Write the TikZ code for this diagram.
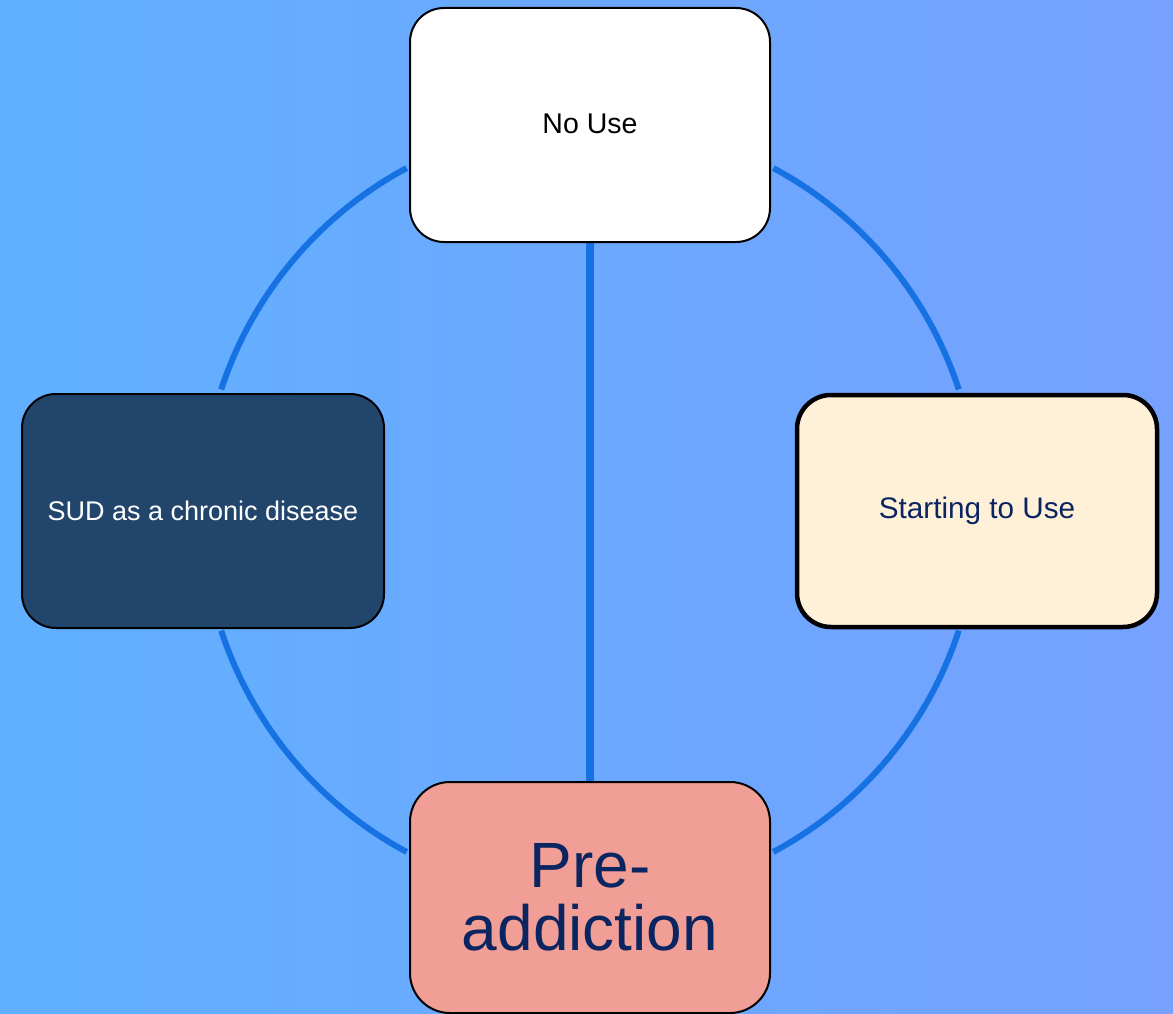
\documentclass[tikz,border=0pt]{standalone}
\usepackage{fontspec}
\setmainfont{Liberation Sans}
\usetikzlibrary{backgrounds}
\definecolor{bgL}{RGB}{96,176,255}
\definecolor{bgR}{RGB}{118,161,255}
\definecolor{link}{RGB}{22,114,226}
\definecolor{navy}{RGB}{11,37,96}
\definecolor{cream}{RGB}{255,240,216}
\definecolor{sud}{RGB}{34,69,108}
\definecolor{salmon}{RGB}{241,158,150}
\tikzset{
  stagebox/.style={draw=black, rounded corners=34pt, minimum width=360pt, minimum height=234pt, inner sep=0pt, align=center, line width=2pt},
  linkline/.style={draw=link, line width=6pt},
}
\begin{document}
\begin{tikzpicture}[x=1pt,y=1pt]
\useasboundingbox (0,0) rectangle (1173,-1014);
\coordinate (c) at (590,-510);
\node[stagebox, fill=white, font=\fontsize{28.5}{33}\selectfont] (nouse) at (590,-125) {\raisebox{2pt}{No Use}};
\node[stagebox, fill=cream, line width=4.5pt, minimum width=360pt, minimum height=232pt, text=navy, font=\fontsize{29.7}{34}\selectfont] (start) at (977,-511) {\raisebox{-3pt}{Starting to Use}};
\node[stagebox, fill=sud, text=white, minimum width=362pt, font=\fontsize{27}{32}\selectfont] (sud) at (203,-511) {SUD as a chronic disease};
\node[stagebox, fill=salmon, text=navy, minimum height=231pt, rounded corners=40pt, font=\fontsize{64}{63}\selectfont] (pre) at (590,-897.5) {Pre-\\addiction};
\begin{scope}[on background layer]
\shade[left color=bgL, right color=bgR] (0,0) rectangle (1173,-1014);
\draw[linkline, line width=7.5pt] (nouse.south) -- (pre.north);
\end{scope}
\draw[linkline] (c) ++(118.2:388pt) arc[start angle=118.2, end angle=161.9, radius=388pt];
\draw[linkline] (c) ++(61.8:388pt) arc[start angle=61.8, end angle=18.1, radius=388pt];
\draw[linkline] (c) ++(198.1:388pt) arc[start angle=198.1, end angle=241.8, radius=388pt];
\draw[linkline] (c) ++(-18.1:388pt) arc[start angle=-18.1, end angle=-61.8, radius=388pt];
\end{tikzpicture}
\end{document}
